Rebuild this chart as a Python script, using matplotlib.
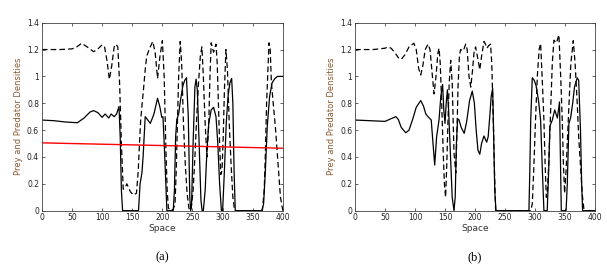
import matplotlib.pyplot as plt
import numpy as np

# panel (a): prey (solid) and predator (dashed)
xa_prey = [0, 20, 40, 59, 70, 80, 86, 93, 100, 105, 111, 115, 120, 124, 128, 130, 132, 134,
           150, 160.4, 163, 166, 168, 171.5, 175, 180, 186, 192, 196, 199, 201, 204, 207.5,
           218, 220, 222, 224, 227, 230, 234, 237, 240, 243, 245.5, 247, 248.5, 251, 254, 256,
           258, 261, 264, 266, 268, 271, 274, 277, 281, 285, 289, 292, 295, 298, 300, 303,
           306, 309, 312, 315, 317, 319, 321, 365, 368, 371, 374, 378, 382, 386, 391, 396, 400]
ya_prey = [0.675, 0.67, 0.66, 0.655, 0.69, 0.735, 0.745, 0.73, 0.695, 0.72, 0.69, 0.72, 0.70, 0.72,
           0.775, 0.55, 0.15, 0, 0, 0, 0.2, 0.28, 0.4, 0.70, 0.68, 0.65, 0.72, 0.837, 0.77, 0.695,
           0.70, 0.4, 0, 0, 0.15, 0.55, 0.68, 0.72, 0.82, 0.93, 0.97, 0.99, 0.7, 0.1, 0, 0.05,
           0.5, 0.92, 0.98, 0.9, 0.5, 0.08, 0, 0, 0.15, 0.45, 0.65, 0.75, 0.77, 0.7, 0.5, 0.2, 0,
           0, 0.3, 0.65, 0.85, 0.95, 0.985, 0.8, 0.3, 0, 0, 0.05, 0.3, 0.62, 0.85, 0.95, 0.98,
           1.0, 1.0, 1.0]
xa_pred = [0, 30, 50, 58, 66, 75, 86, 93, 100, 104, 108, 112, 116, 120, 123, 126, 129, 132, 135,
           138, 141, 144, 147, 152, 157, 160, 162, 164, 166.5, 169, 171.5, 174, 178, 184, 188,
           192, 196, 200, 203, 206, 208, 210, 214, 218, 221, 223, 225, 227, 229.6, 232, 235, 238,
           241, 244, 246, 248, 251, 254, 257, 260, 263, 265.6, 268, 271, 274, 277, 279, 281, 285,
           289, 291, 293, 295, 297, 299, 301, 303, 305.5, 308, 311, 314, 317, 320, 366, 369, 371,
           373, 377, 379, 381, 384, 388, 392, 396, 400]
ya_pred = [1.2, 1.2, 1.205, 1.22, 1.247, 1.22, 1.184, 1.205, 1.235, 1.22, 1.12, 0.978, 1.08, 1.22,
           1.24, 1.22, 0.95, 0.5, 0.16, 0.17, 0.2, 0.17, 0.14, 0.117, 0.13, 0.3, 0.5, 0.675, 0.8,
           0.92, 1.05, 1.15, 1.2, 1.26, 1.18, 0.985, 1.15, 1.266, 1.0, 0.43, 0.15, 0.02, 0, 0.01,
           0.05, 0.3, 0.65, 1.0, 1.26, 1.1, 0.65, 0.35, 0.13, 0.02, 0, 0.02, 0.15, 0.4, 0.7, 0.95,
           1.15, 1.22, 1.0, 0.65, 0.40, 0.65, 1.0, 1.25, 1.18, 1.24, 1.1, 0.8, 0.5, 0.27, 0.3,
           0.55, 0.9, 1.2, 1.05, 0.65, 0.35, 0.1, 0, 0, 0.15, 0.43, 0.8, 1.25, 1.2, 0.95, 0.8,
           0.6, 0.35, 0.1, 0]
# red reference line in (a)
xa_red = [0, 400]
ya_red = [0.505, 0.465]

# panel (b)
xb_prey = [0, 25, 50, 60, 68, 72, 77, 84.5, 90, 96, 102, 109.5, 114, 118, 121.7, 127, 130, 132.8,
           136, 140, 143, 146, 148, 150, 152, 154, 156, 159.5, 162, 165, 167, 169, 171, 173, 177,
           182, 186, 191, 195.5, 199, 202, 205, 208, 211, 215, 219.5, 222, 225, 227, 229.5, 231,
           233, 235, 290, 291.5, 293, 295.6, 299, 302, 306, 309.5, 312, 315, 320.5, 323, 325,
           329, 333, 337.5, 341, 342.5, 344, 352, 354, 356.7, 359.5, 363, 366, 370.6, 373, 376,
           378, 379.5, 400]
yb_prey = [0.675, 0.67, 0.665, 0.685, 0.70, 0.68, 0.62, 0.58, 0.60, 0.68, 0.77, 0.82, 0.78, 0.72,
           0.70, 0.675, 0.5, 0.34, 0.55, 0.675, 0.85, 0.94, 0.75, 0.65, 0.8, 0.9, 0.75, 0.37, 0.1,
           0, 0.1, 0.5, 0.68, 0.68, 0.62, 0.576, 0.66, 0.82, 0.89, 0.8, 0.6, 0.45, 0.42, 0.5,
           0.556, 0.51, 0.55, 0.72, 0.85, 0.91, 0.6, 0.15, 0, 0, 0.3, 0.675, 0.99, 0.97, 0.93,
           0.82, 0.675, 0.35, 0, 0, 0.3, 0.63, 0.675, 0.75, 0.69, 0.81, 0.4, 0, 0, 0.2, 0.65,
           0.69, 0.8, 0.92, 0.99, 0.97, 0.6, 0.2, 0, 0]
xb_pred = [0, 30, 50, 55, 60, 66, 72, 77, 83, 90, 98, 102, 106, 109.5, 113, 117, 121.7, 125, 128,
           131.7, 135, 138, 140, 142, 144.5, 147, 149, 151, 153, 155, 157, 159.5, 162, 165, 168,
           170, 171.7, 174, 176, 180.5, 184.5, 187, 190, 193, 196, 198.5, 201, 204, 208, 211, 215,
           217.5, 220, 223, 226, 228, 230.5, 232.5, 234.5, 293, 295.6, 298, 301, 304, 307, 309.5,
           312, 315, 317, 319, 321, 323, 326, 329, 331.7, 336, 340, 343, 345.6, 347.5, 349.5,
           352, 356.7, 360, 364, 367, 370.6, 373, 376, 379, 382, 400]
yb_pred = [1.2, 1.2, 1.21, 1.22, 1.21, 1.18, 1.14, 1.127, 1.16, 1.22, 1.247, 1.2, 1.06, 1.01,
           1.08, 1.2, 1.24, 1.2, 1.05, 0.87, 1.0, 1.17, 1.21, 1.1, 0.8, 0.43, 0.2, 0.10, 0.35,
           0.675, 0.95, 1.12, 0.95, 0.43, 0.28, 0.6, 0.92, 1.15, 1.2, 1.19, 1.24, 1.2, 1.0, 0.92,
           1.05, 1.18, 1.22, 1.15, 1.05, 1.15, 1.26, 1.24, 1.21, 1.23, 1.24, 1.1, 0.675, 0.3, 0,
           0, 0.05, 0.3, 0.675, 1.0, 1.2, 1.246, 1.0, 0.675, 0.35, 0.1, 0.15, 0.35, 0.72, 1.1,
           1.27, 1.25, 1.31, 1.0, 0.675, 0.35, 0.13, 0.3, 0.78, 1.1, 1.266, 1.1, 0.8, 0.55, 0.34,
           0.12, 0, 0]

xticks = [0, 50, 100, 150, 200, 250, 300, 350, 400]
yticks = [0, 0.2, 0.4, 0.6, 0.8, 1.0, 1.2, 1.4]
ytick_labels = ['0', '0.2', '0.4', '0.6', '0.8', '1', '1.2', '1.4']

fig = plt.figure(figsize=(6.07, 2.67), dpi=100)
ax1 = fig.add_axes([0.069, 0.211, 0.397, 0.704])
ax2 = fig.add_axes([0.585, 0.211, 0.395, 0.704])

ax1.plot(xa_prey, ya_prey, 'k-', lw=0.9)
ax1.plot(xa_pred, ya_pred, 'k--', lw=0.9, dashes=(4.5, 2.5))
ax1.plot(xa_red, ya_red, '-', color='red', lw=1.0)

ax2.plot(xb_prey, yb_prey, 'k-', lw=0.9)
ax2.plot(xb_pred, yb_pred, 'k--', lw=0.9, dashes=(4.5, 2.5))

for ax, tag in [(ax1, '(a)'), (ax2, '(b)')]:
    ax.set_xlim(0, 400)
    ax.set_ylim(0, 1.4)
    ax.set_xticks(xticks)
    ax.set_yticks(yticks)
    ax.set_yticklabels(ytick_labels)
    ax.tick_params(direction='in', top=True, right=True, labelsize=5.5, length=2.5,
                   width=0.5, pad=2, colors='#222222')
    for s in ax.spines.values():
        s.set_linewidth(0.6)
        s.set_color('#444444')
    ax.set_xlabel('Space', fontsize=6.5, labelpad=1, color='#333333')
    ax.set_ylabel('Prey and Predator Densities', fontsize=6, labelpad=3, color='#8a5a30')
    pos = ax.get_position()
    fig.text((pos.x0 + pos.x1) / 2, 0.037, tag, ha='center', va='center',
             fontsize=9, family='Liberation Serif')

fig.savefig('out.png', dpi=100)
